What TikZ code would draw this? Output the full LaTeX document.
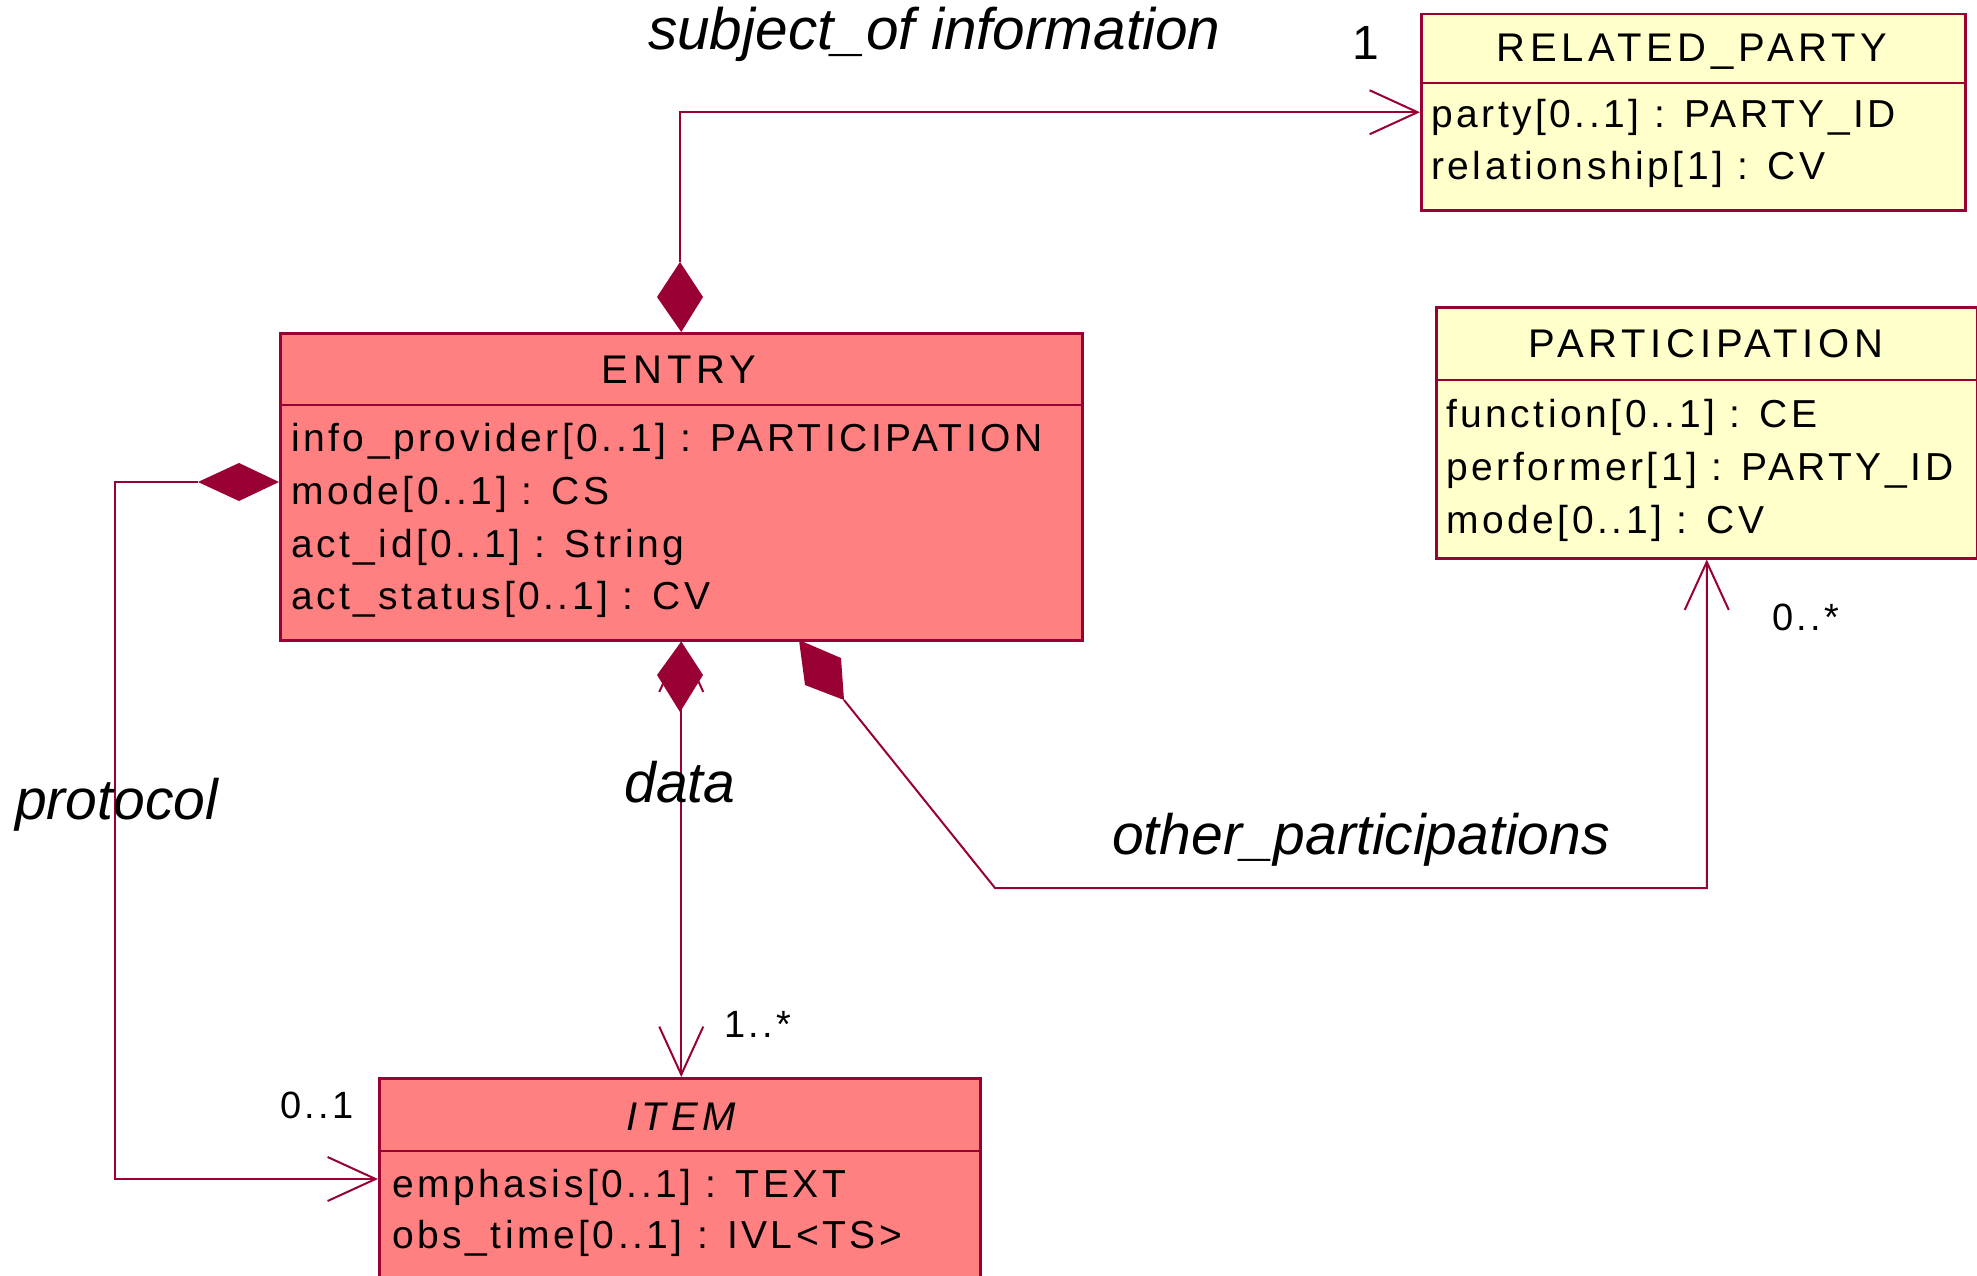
\documentclass[tikz,border=0pt]{standalone}
\usepackage{fontspec}
\setmainfont{Liberation Sans}
\newfontfamily\boxfont[LetterSpace=9]{Liberation Sans}
\newfontfamily\ttlfont[LetterSpace=12]{Liberation Sans}
\usetikzlibrary{arrows.meta}
\definecolor{dr}{RGB}{153,0,51}
\definecolor{redfill}{RGB}{255,128,128}
\definecolor{yelfill}{RGB}{255,255,204}
\begin{document}
\begin{tikzpicture}[x=1pt,y=-1pt,
  cls/.style={draw=dr, line width=2.5pt, rectangle, inner sep=0pt, anchor=north west},
  redcls/.style={cls, fill=redfill},
  yelcls/.style={cls, fill=yelfill},
  divider/.style={draw=dr, line width=2.5pt},
  attr/.style={inner sep=0pt, anchor=base west, font=\boxfont\fontsize{39}{47}\selectfont},
  ttl/.style={inner sep=0pt, anchor=base, font=\ttlfont\fontsize{40}{48}\selectfont},
  lbl/.style={inner sep=0pt, anchor=base west, font=\itshape\fontsize{57}{65}\selectfont},
  mult/.style={inner sep=0pt, anchor=base west, font=\boxfont\fontsize{38}{46}\selectfont},
  conn/.style={draw=dr, line width=2pt},
  oarr/.tip={Straight Barb[length=48pt,width=44pt,line width=2pt]},
  dia/.style={fill=dr, draw=none}]
\useasboundingbox (0,0) rectangle (1977,1276);
\clip (0,0) rectangle (1977,1276);
\fill[white] (0,0) rectangle (1977,1276);

% ---------- classes ----------
\node[yelcls, minimum width=544pt, minimum height=196pt] (rp) at (1420,13) {};
\draw[divider] (1420,83) -- (1964,83);
\node[ttl] (rpT) at (1692,62) {RELATED\_PARTY};
\node[attr] (rpA1) at (1431,128) {party[0..1] : PARTY\_ID};
\node[attr] (rpA2) at (1431,180) {relationship[1] : CV};

\node[yelcls, minimum width=541pt, minimum height=251pt] (part) at (1435,306) {};
\draw[divider] (1435,380) -- (1976,380);
\node[ttl] (paT) at (1706,357) {PARTICIPATION};
\node[attr] (paA1) at (1446,427) {function[0..1] : CE};
\node[attr] (paA2) at (1446,480) {performer[1] : PARTY\_ID};
\node[attr] (paA3) at (1446,533) {mode[0..1] : CV};

\node[redcls, minimum width=802pt, minimum height=307pt] (entry) at (279,332) {};
\draw[divider] (279,405) -- (1081,405);
\node[ttl] (enT) at (679,383) {ENTRY};
\node[attr] (enA1) at (291,451) {info\_provider[0..1] : PARTICIPATION};
\node[attr] (enA2) at (291,504) {mode[0..1] : CS};
\node[attr] (enA3) at (291,557) {act\_id[0..1] : String};
\node[attr] (enA4) at (291,609) {act\_status[0..1] : CV};

\node[redcls, minimum width=601pt, minimum height=240pt] (item) at (378,1077) {};
\draw[divider] (378,1151) -- (979,1151);
\node[ttl, font=\ttlfont\itshape\fontsize{40}{48}\selectfont] (itT) at (681,1130) {ITEM};
\node[attr] (itA1) at (392,1197) {emphasis[0..1] : TEXT};
\node[attr] (itA2) at (392,1248) {obs\_time[0..1] : IVL<TS>};

% ---------- subject_of information ----------
\coordinate (sD) at (680,262);
\draw[conn,-oarr] (sD) |- (rp.west);
\fill[dia] (entry.north) -- (703,297) -- (sD) -- (657,297) -- cycle;
\node[lbl, font=\itshape\fontsize{58.5}{66}\selectfont] (sLbl) at (648,50) {subject\_of information};
\node[mult, font=\boxfont\fontsize{48}{56}\selectfont] (sMul) at (1352,60) {1};

% ---------- protocol ----------
\coordinate (pE) at (279,482);
\coordinate (pD) at (198,482);
\coordinate (itemL) at (378,1179);
\draw[conn,-oarr] (pD) -- (115,482) |- (itemL);
\fill[dia] (pE) -- (239,463) -- (pD) -- (239,501) -- cycle;
\node[lbl] (pLbl) at (15,819) {protocol};
\node[mult] (pMul) at (280,1118) {0..1};

% ---------- data ----------
\draw[conn,oarr-oarr] (entry.south) -- (entry.south |- item.north);
\fill[dia] (entry.south) -- (703,675) -- (680,712) -- (657,675) -- cycle;
\node[lbl, anchor=base] (dLbl) at (680,802) {data};
\node[mult] (dMul) at (724,1037) {1..*};

% ---------- other_participations ----------
\coordinate (oD) at (844,700);
\draw[conn,-oarr] (oD) -- (995,888) -| (part.south);
\fill[dia] (799,640) -- (841,658) -- (oD) -- (805,685) -- cycle;
\node[lbl] (oLbl) at (1112,854) {other\_participations};
\node[mult] (oMul) at (1772,630) {0..*};
\end{tikzpicture}
\end{document}
